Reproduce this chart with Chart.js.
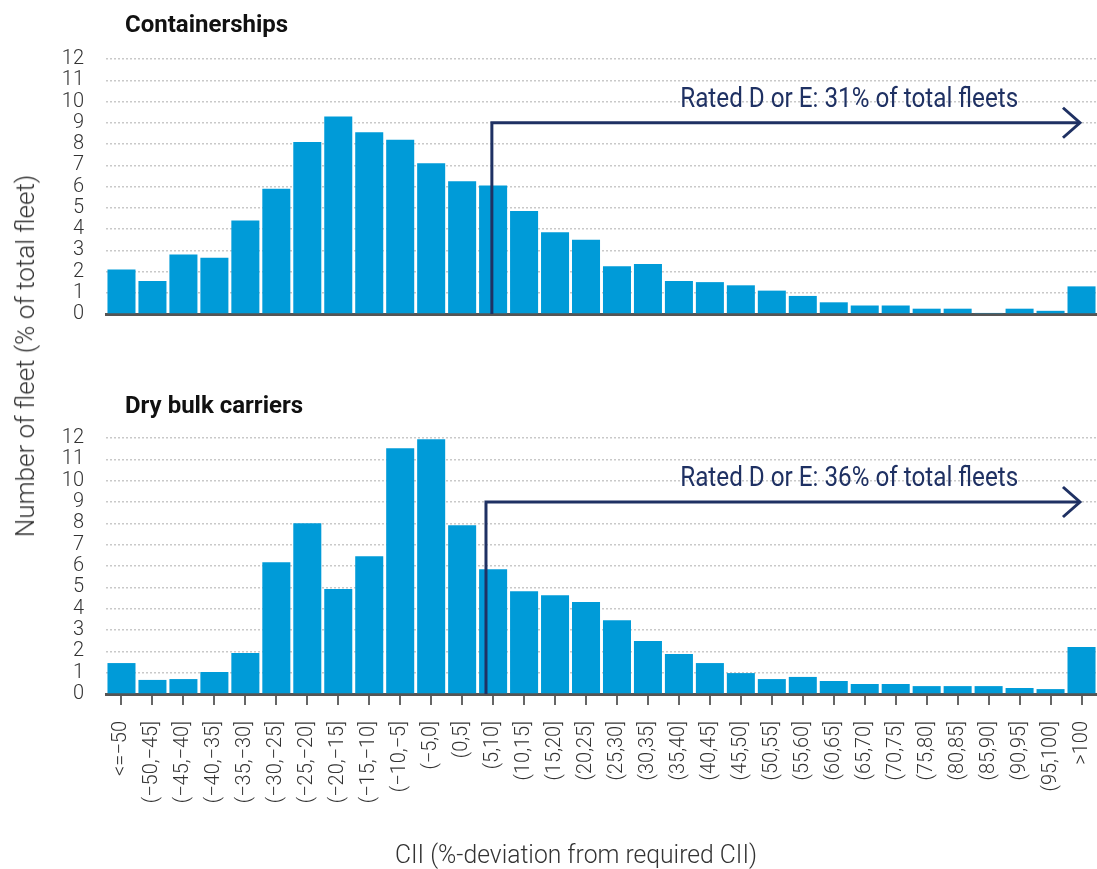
<!DOCTYPE html>
<html>
<head>
<meta charset="utf-8">
<script src="https://cdn.jsdelivr.net/npm/chart.js@4.4.1/dist/chart.umd.min.js"></script>
<style>
body { margin: 0; background: #fff; width: 1097px; height: 869px; overflow: hidden; position: relative; font-family: Roboto, sans-serif; }
.box { position: absolute; left: 0; width: 1097px; }
#topBox { top: 0; height: 348px; }
#botBox { top: 370px; height: 499px; }
.panelTitle { position: absolute; left: 125px; font-size: 24px; line-height: 24px; font-weight: 700; color: #111; white-space: nowrap; }
#yTitle { position: absolute; left: 25px; top: 356px; font-size: 26px; line-height: 26px; font-weight: 300; color: #333; white-space: nowrap; transform: translate(-50%, -50%) rotate(-90deg); }
#xTitle { position: absolute; left: 576px; top: 841px; font-size: 26px; line-height: 26px; font-weight: 300; color: #333; white-space: nowrap; transform: translateX(-50%) scaleX(0.95); }
</style>
</head>
<body>
<div class="box" id="topBox"><canvas id="topChart"></canvas></div>
<div class="box" id="botBox"><canvas id="botChart"></canvas></div>
<div class="panelTitle" style="top:12px">Containerships</div>
<div class="panelTitle" style="top:393px">Dry bulk carriers</div>
<div id="yTitle">Number of fleet (% of total fleet)</div>
<div id="xTitle">CII (%-deviation from required CII)</div>
<script>
// CII deviation bins
const bins = ['<=−50', '(−50,−45]', '(−45,−40]', '(−40,−35]', '(−35,−30]', '(−30,−25]',
    '(−25,−20]', '(−20,−15]', '(−15,−10]', '(−10,−5]', '(−5,0]', '(0,5]', '(5,10]',
    '(10,15]', '(15,20]', '(20,25]', '(25,30]', '(30,35]', '(35,40]', '(40,45]', '(45,50]',
    '(50,55]', '(55,60]', '(60,65]', '(65,70]', '(70,75]', '(75,80]', '(80,85]', '(85,90]',
    '(90,95]', '(95,100]', '>100'];

// % of total fleet
const containerships = [2.1, 1.55, 2.8, 2.65, 4.4, 5.9, 8.1, 9.3, 8.55, 8.2, 7.1, 6.25, 6.05,
    4.85, 3.85, 3.5, 2.25, 2.35, 1.55, 1.5, 1.35, 1.1, 0.85, 0.55, 0.4, 0.4, 0.25, 0.25, 0.05,
    0.25, 0.15, 1.3];
const dryBulk = [1.45, 0.66, 0.7, 1.03, 1.92, 6.18, 8.0, 4.92, 6.46, 11.52, 11.94, 7.91, 5.85,
    4.82, 4.63, 4.31, 3.46, 2.48, 1.87, 1.45, 0.98, 0.7, 0.8, 0.61, 0.47, 0.47, 0.37, 0.37, 0.37,
    0.28, 0.23, 2.2];

const yTicks = [0, 1, 2, 3, 4, 5, 6, 7, 8, 9, 10, 11, 12];

// rated D or E markers: start position (bin index), height, arrow end, label
const topRated = { startX: 11.96, level: 9, endX: 30.95, labelX: 23.5, text: 'Rated D or E: 31% of total fleets' };
const botRated = { startX: 11.77, level: 9, endX: 30.95, labelX: 23.5, text: 'Rated D or E: 36% of total fleets' };

const navy = '#1f3163';
const barBlue = '#009bd8';

// Draws the bracket arrow + label on top of the bars
const ratedArrow = {
    id: 'ratedArrow',
    afterDatasetsDraw(chart, args, opts) {
        const xs = chart.scales.x;
        const ys = chart.scales.y;
        const ctx = chart.ctx;
        const x0 = xs.getPixelForValue(opts.startX);
        const x1 = xs.getPixelForValue(opts.endX);
        const yb = ys.getPixelForValue(0);
        const yl = ys.getPixelForValue(opts.level);
        ctx.save();
        ctx.strokeStyle = navy;
        ctx.lineWidth = 3;
        ctx.lineJoin = 'miter';
        ctx.beginPath();
        ctx.moveTo(x0, yb);
        ctx.lineTo(x0, yl);
        ctx.lineTo(x1, yl);
        ctx.stroke();
        ctx.beginPath();
        ctx.moveTo(x1 - 17, yl - 15);
        ctx.lineTo(x1, yl);
        ctx.lineTo(x1 - 17, yl + 15);
        ctx.stroke();
        // condensed-looking label
        ctx.fillStyle = navy;
        ctx.font = '400 28px Roboto';
        ctx.textAlign = 'center';
        ctx.textBaseline = 'alphabetic';
        ctx.translate(xs.getPixelForValue(opts.labelX), yl - 16);
        ctx.scale(0.866, 1);
        ctx.fillText(opts.text, 0, 0);
        ctx.restore();
    }
};

function buildChart(canvasId, values, rated, showLabels, topPad) {
    const ctx = document.getElementById(canvasId).getContext('2d');
    return new Chart(ctx, {
        type: 'bar',
        data: {
            labels: bins,
            datasets: [{
                data: values,
                backgroundColor: barBlue,
                borderWidth: 0,
                barPercentage: 0.905,
                categoryPercentage: 1
            }]
        },
        options: {
            responsive: true,
            maintainAspectRatio: false,
            animation: false,
            layout: { padding: { top: topPad, left: 0, right: 0, bottom: 0 } },
            plugins: {
                legend: { display: false },
                tooltip: { enabled: false },
                title: { display: false },
                ratedArrow: rated
            },
            scales: {
                x: {
                    offset: true,
                    grid: {
                        display: showLabels,
                        drawOnChartArea: false,
                        drawTicks: true,
                        tickLength: 11,
                        color: '#666',
                        lineWidth: 2,
                        offset: false
                    },
                    border: { display: true, color: '#555', width: 3 },
                    ticks: {
                        display: showLabels,
                        autoSkip: false,
                        minRotation: 90,
                        maxRotation: 90,
                        padding: 16,
                        color: '#333',
                        font: { family: 'Roboto', size: 20, weight: '300' }
                    },
                    afterFit: (s) => {
                        s.height = showLabels ? 175 : 0;
                        s.paddingLeft = 0;
                        s.paddingRight = 0;
                    }
                },
                y: {
                    min: 0,
                    max: 12,
                    afterBuildTicks: (s) => { s.ticks = yTicks.map(v => ({ value: v })); },
                    grid: { color: '#c9c9c9', lineWidth: 1.5, drawTicks: false },
                    border: { display: false, dash: [2, 2] },
                    ticks: {
                        autoSkip: false,
                        padding: 22,
                        color: '#333',
                        font: { family: 'Roboto', size: 20, weight: '300' }
                    },
                    afterFit: (s) => { s.width = 106; }
                }
            }
        },
        plugins: [ratedArrow]
    });
}

buildChart('topChart', containerships, topRated, false, 59);
buildChart('botChart', dryBulk, botRated, true, 68);
</script>
</body>
</html>
